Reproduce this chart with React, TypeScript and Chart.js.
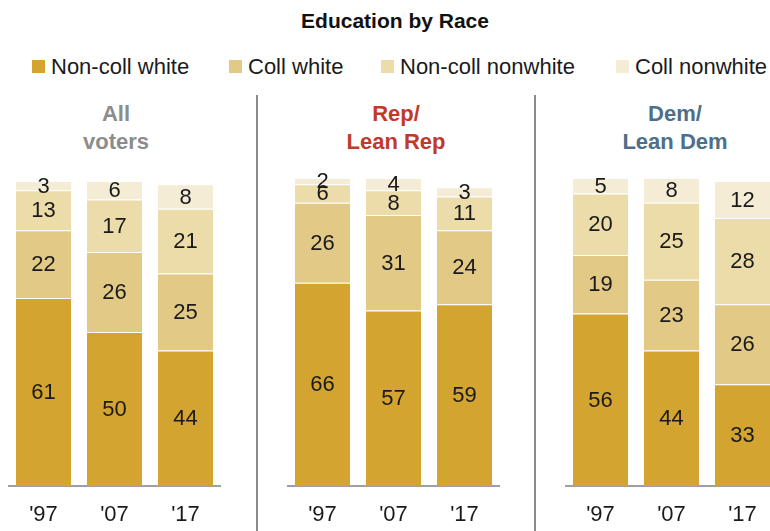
import React, { useEffect, useRef } from "react";
import { Chart, registerables } from "chart.js";

Chart.register(...registerables);

// ---------- data ----------
const categories = ["'97", "'07", "'17"];
const seriesNames = ["Non-coll white", "Coll white", "Non-coll nonwhite", "Coll nonwhite"];
const seriesColors = ["#D3A530", "#E2C985", "#ECDCAA", "#F5ECD6"];

const allNonCollWhite = [61, 50, 44];
const allCollWhite = [22, 26, 25];
const allNonCollNonwhite = [13, 17, 21];
const allCollNonwhite = [3, 6, 8];

const repNonCollWhite = [66, 57, 59];
const repCollWhite = [26, 31, 24];
const repNonCollNonwhite = [6, 8, 11];
const repCollNonwhite = [2, 4, 3];

const demNonCollWhite = [56, 44, 33];
const demCollWhite = [19, 23, 26];
const demNonCollNonwhite = [20, 25, 28];
const demCollNonwhite = [5, 8, 12];

const FONT = "'Liberation Sans', Arial, Helvetica, sans-serif";

const valueLabels = {
  id: "valueLabels",
  afterDatasetsDraw(chart: any) {
    const ctx = chart.ctx;
    ctx.save();
    ctx.font = `22px ${FONT}`;
    ctx.fillStyle = "#1a1a1a";
    ctx.textAlign = "center";
    ctx.textBaseline = "middle";
    chart.data.datasets.forEach((ds: any, di: number) => {
      const meta = chart.getDatasetMeta(di);
      meta.data.forEach((el: any, i: number) => {
        const p = el.getProps(["x", "y", "base"], true);
        ctx.fillText(String(ds.data[i]), p.x, (p.y + p.base) / 2 + 1);
      });
    });
    ctx.restore();
  },
};

type PanelProps = { left: number; series: number[][] };

const CANVAS_TOP = 168;
const CANVAS_H = 531 - CANVAS_TOP;
const PAD_TOP = 10;
const PLOT_H = 308;

function Panel({ left, series }: PanelProps) {
  const ref = useRef<HTMLCanvasElement | null>(null);
  useEffect(() => {
    if (!ref.current) return;
    const chart = new Chart(ref.current, {
      type: "bar",
      data: {
        labels: categories,
        datasets: series.map((d, i) => ({
          label: seriesNames[i],
          data: d,
          backgroundColor: seriesColors[i],
          borderColor: "rgba(255,255,255,0.6)",
          borderWidth: { top: 1, left: 0, right: 0, bottom: 0 },
          borderSkipped: false,
          barPercentage: 1,
          categoryPercentage: 55 / 71,
        })),
      },
      options: {
        animation: false,
        responsive: false,
        maintainAspectRatio: false,
        layout: { padding: { top: PAD_TOP, left: 0, right: 0, bottom: 0 } },
        plugins: { legend: { display: false }, tooltip: { enabled: false }, title: { display: false } },
        scales: {
          y: { display: false, stacked: true, min: 0, max: 100 },
          x: {
            stacked: true,
            grid: { display: false, drawTicks: false },
            border: { display: true, color: "#a0a0a0", width: 2 },
            ticks: { color: "#1a1a1a", font: { family: FONT, size: 22 }, padding: 16 },
            afterFit: (scale: any) => {
              scale.height = CANVAS_H - PAD_TOP - PLOT_H;
            },
          },
        },
      },
      plugins: [valueLabels],
    });
    return () => chart.destroy();
  }, []);
  return (
    <canvas
      ref={ref}
      width={213}
      height={CANVAS_H}
      style={{ position: "absolute", left, top: CANVAS_TOP, width: 213, height: CANVAS_H }}
    />
  );
}

const legendLeft = [32, 229, 381, 616];
const panelTitles = [
  { lines: ["All", "voters"], color: "#8C8C8C", center: 116 },
  { lines: ["Rep/", "Lean Rep"], color: "#BF3B27", center: 396 },
  { lines: ["Dem/", "Lean Dem"], color: "#4D6F89", center: 675 },
];

export default function App() {
  return (
    <div
      style={{
        position: "absolute",
        left: 0,
        top: 0,
        width: 770,
        height: 531,
        overflow: "hidden",
        background: "#fff",
        fontFamily: FONT,
      }}
    >
      <div
        style={{
          position: "absolute",
          left: 0,
          width: 790,
          top: 9,
          textAlign: "center",
          fontWeight: "bold",
          fontSize: 21,
          lineHeight: "24px",
          color: "#111",
        }}
      >
        Education by Race
      </div>
      {seriesNames.map((n, i) => (
        <div key={n}>
          <div
            style={{
              position: "absolute",
              left: legendLeft[i],
              top: 60,
              width: 13,
              height: 13,
              background: seriesColors[i],
            }}
          />
          <div
            style={{
              position: "absolute",
              left: legendLeft[i] + 19,
              top: 54,
              fontSize: 22,
              lineHeight: "26px",
              color: "#1a1a1a",
              whiteSpace: "nowrap",
            }}
          >
            {n}
          </div>
        </div>
      ))}
      {panelTitles.map((t) => (
        <div
          key={t.lines.join(" ")}
          style={{
            position: "absolute",
            left: t.center - 100,
            width: 200,
            top: 100,
            textAlign: "center",
            fontWeight: "bold",
            fontSize: 22,
            lineHeight: "28px",
            color: t.color,
          }}
        >
          {t.lines[0]}
          <br />
          {t.lines[1]}
        </div>
      ))}
      <div style={{ position: "absolute", left: 256, top: 95, width: 2, height: 436, background: "#8a8a8a" }} />
      <div style={{ position: "absolute", left: 534, top: 95, width: 2, height: 436, background: "#8a8a8a" }} />
      <Panel left={8} series={[allNonCollWhite, allCollWhite, allNonCollNonwhite, allCollNonwhite]} />
      <Panel left={287} series={[repNonCollWhite, repCollWhite, repNonCollNonwhite, repCollNonwhite]} />
      <Panel left={565} series={[demNonCollWhite, demCollWhite, demNonCollNonwhite, demCollNonwhite]} />
    </div>
  );
}
